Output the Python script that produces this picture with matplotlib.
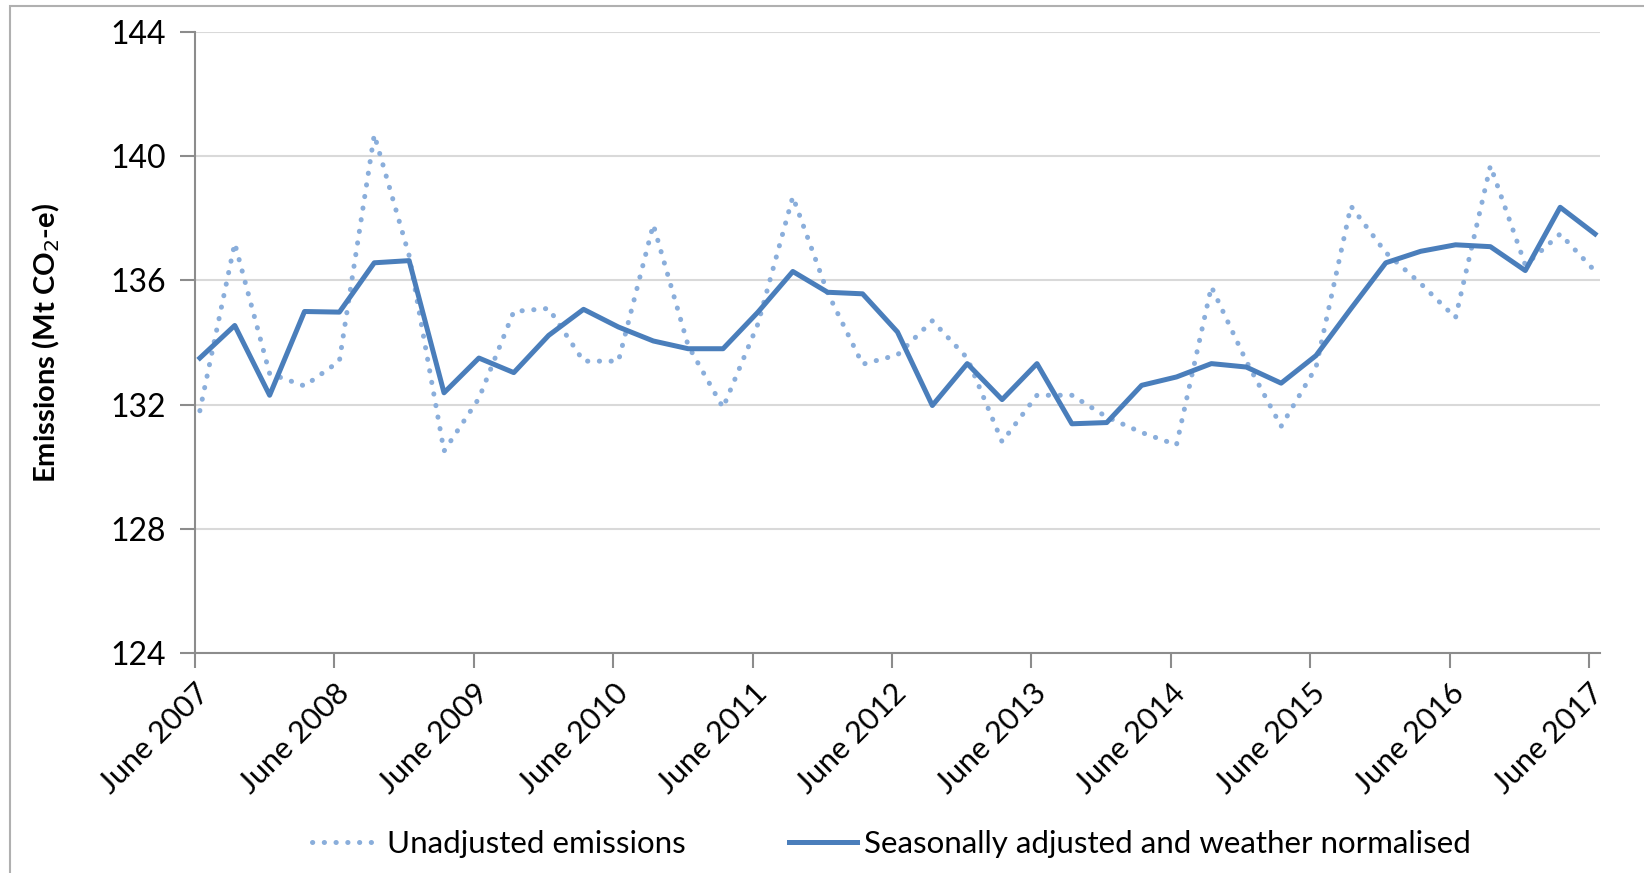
import numpy as np
import matplotlib.pyplot as plt
from matplotlib.patches import Rectangle

# quarterly emissions, June 2007 .. June 2017 (Mt CO2-e)
unadjusted = [131.8, 137.2, 133.0, 132.6, 133.4, 140.7, 136.8, 130.5, 132.2, 135.0,
              135.1, 133.4, 133.4, 137.8, 133.9, 131.9, 134.6, 138.7, 135.6, 133.3,
              133.6, 134.7, 133.5, 130.8, 132.3, 132.3, 131.6, 131.1, 130.7, 135.8,
              133.4, 131.3, 133.2, 138.4, 136.9, 135.9, 134.8, 139.7, 136.5, 137.5,
              136.3]
adjusted = [133.5, 134.55, 132.3, 135.0, 134.98, 136.57, 136.64, 132.38, 133.5, 133.03,
            134.23, 135.07, 134.5, 134.05, 133.8, 133.8, 134.98, 136.29, 135.62, 135.57,
            134.34, 131.97, 133.32, 132.16, 133.32, 131.38, 131.42, 132.62, 132.89, 133.32,
            133.21, 132.69, 133.58, 135.09, 136.57, 136.94, 137.15, 137.09, 136.32, 138.36,
            137.5]
tick_labels = ["June %d" % y for y in range(2007, 2018)]
yticks = [124, 128, 132, 136, 140, 144]

plt.rcParams['font.family'] = ['Lato', 'DejaVu Sans']

fig = plt.figure(figsize=(16.44, 8.73), dpi=100)
ax = fig.add_axes([0.1186, 0.2523, 0.9732 - 0.1186, 0.9630 - 0.2523])

# chart frame (only left/top visible in the crop)
fig.patches.append(Rectangle((10 / 1644, -0.1), 1.2, 1 - 6 / 873 + 0.1,
                             transform=fig.transFigure, fill=False,
                             edgecolor='#b0b0b0', linewidth=1.5))

x = np.arange(len(adjusted))
ax.plot(x, unadjusted, color='#8aaedb', linewidth=3.6,
        linestyle=(0, (0.05, 2.3)), dash_capstyle='round',
        label='Unadjusted emissions')
ax.plot(x, adjusted, color='#4a7ebb', linewidth=3.6,
        label='Seasonally adjusted and weather normalised')

ax.set_xlim(-0.14, 40.14)
ax.set_ylim(124, 144)
ax.set_yticks(yticks)
ax.set_yticklabels([str(v) for v in yticks], fontsize=23)
ax.set_xticks(np.linspace(-0.14, 39.83, len(tick_labels)))
ax.set_xticklabels(tick_labels, rotation=45, ha='right', rotation_mode='anchor',
                   fontsize=22)

ax.grid(axis='y', color='#d9d9d9', linewidth=1.5)
ax.set_axisbelow(True)
for side in ['top', 'right']:
    ax.spines[side].set_visible(False)
for side in ['left', 'bottom']:
    ax.spines[side].set_color('#8c8c8c')
    ax.spines[side].set_linewidth(1.5)
ax.tick_params(axis='both', length=11, width=1.5, color='#8c8c8c')
ax.tick_params(axis='y', pad=10)
ax.tick_params(axis='x', pad=8)

ax.set_ylabel('Emissions (Mt CO$_2$-e)', fontsize=21, fontweight='bold')
ax.yaxis.set_label_coords(-0.095, 0.5)

fig.legend(loc='center', bbox_to_anchor=(891 / 1644, 1 - 844 / 873), ncol=2,
           frameon=False, fontsize=22.5, handlelength=2.2, handletextpad=0.2,
           columnspacing=3.3)

fig.savefig('out.png', dpi=100)
